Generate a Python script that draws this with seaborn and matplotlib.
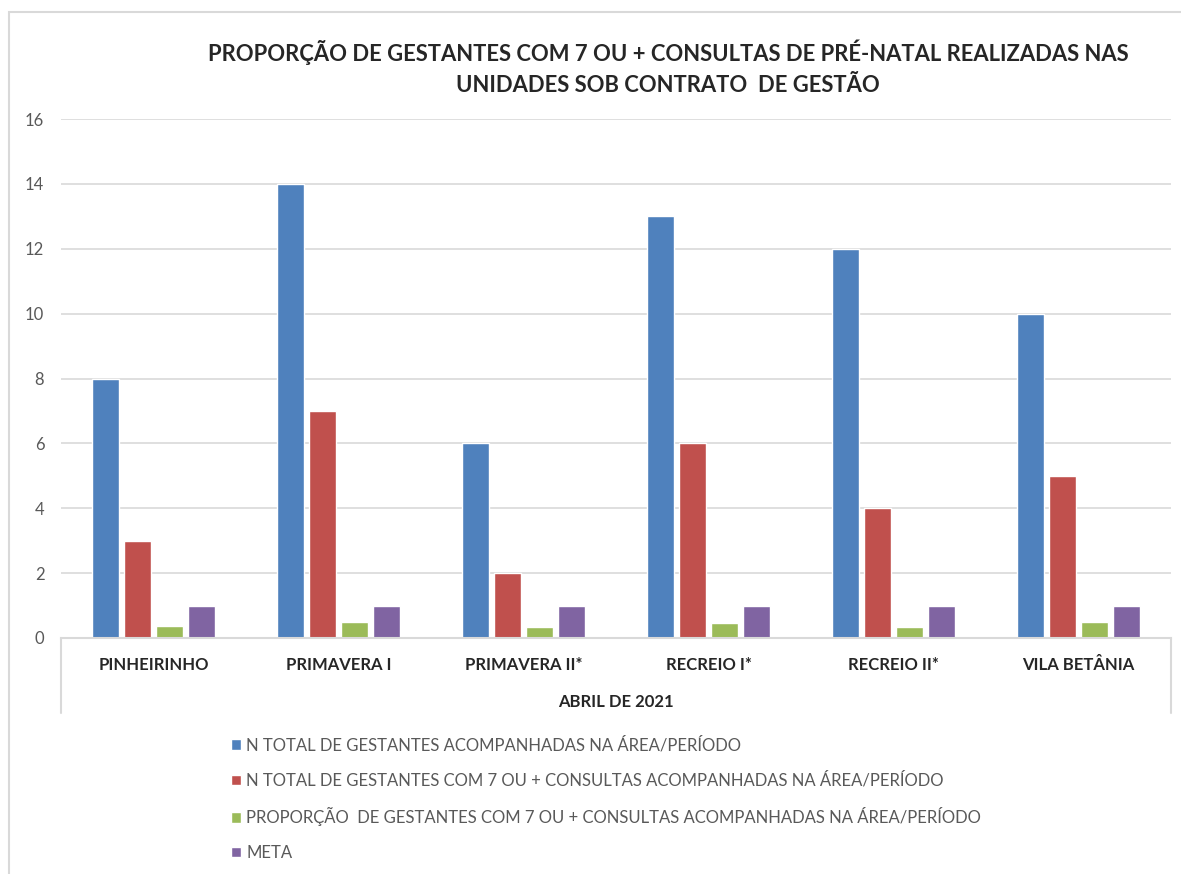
import pandas as pd
import seaborn as sns
import matplotlib.pyplot as plt
from matplotlib.patches import Rectangle, Patch

# dados
unidades = ['PINHEIRINHO', 'PRIMAVERA I', 'PRIMAVERA II*', 'RECREIO I*', 'RECREIO II*', 'VILA BETÂNIA']
total_gestantes = [8, 14, 6, 13, 12, 10]
gestantes_7_consultas = [3, 7, 2, 6, 4, 5]
proporcao = [0.375, 0.5, 0.333, 0.462, 0.333, 0.5]
meta = [1, 1, 1, 1, 1, 1]

series = [
    'N TOTAL DE GESTANTES ACOMPANHADAS NA ÁREA/PERÍODO',
    'N TOTAL DE GESTANTES COM 7 OU + CONSULTAS ACOMPANHADAS NA ÁREA/PERÍODO',
    'PROPORÇÃO  DE GESTANTES COM 7 OU + CONSULTAS ACOMPANHADAS NA ÁREA/PERÍODO',
    'META',
]
cores = ['#4f81bd', '#c0504d', '#9bbb59', '#8064a2']

df = pd.DataFrame({'unidade': unidades, series[0]: total_gestantes, series[1]: gestantes_7_consultas,
                   series[2]: proporcao, series[3]: meta})
df_long = df.melt(id_vars='unidade', var_name='serie', value_name='valor')

sns.set_style('white')
plt.rcParams['font.family'] = ['Lato', 'DejaVu Sans']

fig = plt.figure(figsize=(11.81, 8.74), dpi=100)
ax = fig.add_axes([61 / 1181, 1 - 638 / 874, 1110 / 1181, 519 / 874])

sns.barplot(data=df_long, x='unidade', y='valor', hue='serie', hue_order=series,
            palette=cores, width=0.69, gap=0.15, ax=ax, legend=False, saturation=1)

ax.set_ylim(0, 16)
ax.set_yticks(range(0, 17, 2))
ax.set_xlim(-0.5, 5.5)
ax.yaxis.grid(True, color='#d9d9d9', linewidth=1.2)
ax.set_axisbelow(True)
for s in ['top', 'right', 'left']:
    ax.spines[s].set_visible(False)
ax.spines['bottom'].set_color('#d9d9d9')
ax.spines['bottom'].set_linewidth(1.5)
ax.tick_params(axis='y', length=0, labelsize=12, labelcolor='#595959', pad=12)
ax.tick_params(axis='x', length=0, labelsize=12, pad=14)
for t in ax.get_xticklabels():
    t.set_fontweight('bold')
ax.set_xlabel('ABRIL DE 2021', fontsize=12, fontweight='bold', labelpad=15)
ax.set_ylabel('')

# caixa do eixo de categorias
ax.plot([0, 0], [0, -75 / 519], transform=ax.transAxes, color='#d9d9d9', lw=1.5, clip_on=False)
ax.plot([1, 1], [0, -75 / 519], transform=ax.transAxes, color='#d9d9d9', lw=1.5, clip_on=False)

fig.text(668 / 1181, 1 - 68 / 874,
         'PROPORÇÃO DE GESTANTES COM 7 OU + CONSULTAS DE PRÉ-NATAL REALIZADAS NAS\nUNIDADES SOB CONTRATO  DE GESTÃO',
         ha='center', va='center', fontsize=15.8, fontweight='bold', linespacing=1.6)

handles = [Patch(facecolor=c, label=s) for c, s in zip(cores, series)]
fig.legend(handles=handles, loc='upper left', bbox_to_anchor=(216 / 1181, 1 - 722 / 874),
           frameon=False, fontsize=12, handlelength=0.6, handleheight=0.6, handletextpad=0.3,
           labelspacing=1.12, labelcolor='#595959')

fig.patches.append(Rectangle((9 / 1181, -0.1), 1.2, 1 - 12 / 874 + 0.1, transform=fig.transFigure,
                             fill=False, edgecolor='#d9d9d9', linewidth=1.5))

fig.savefig('out.png', dpi=100)
